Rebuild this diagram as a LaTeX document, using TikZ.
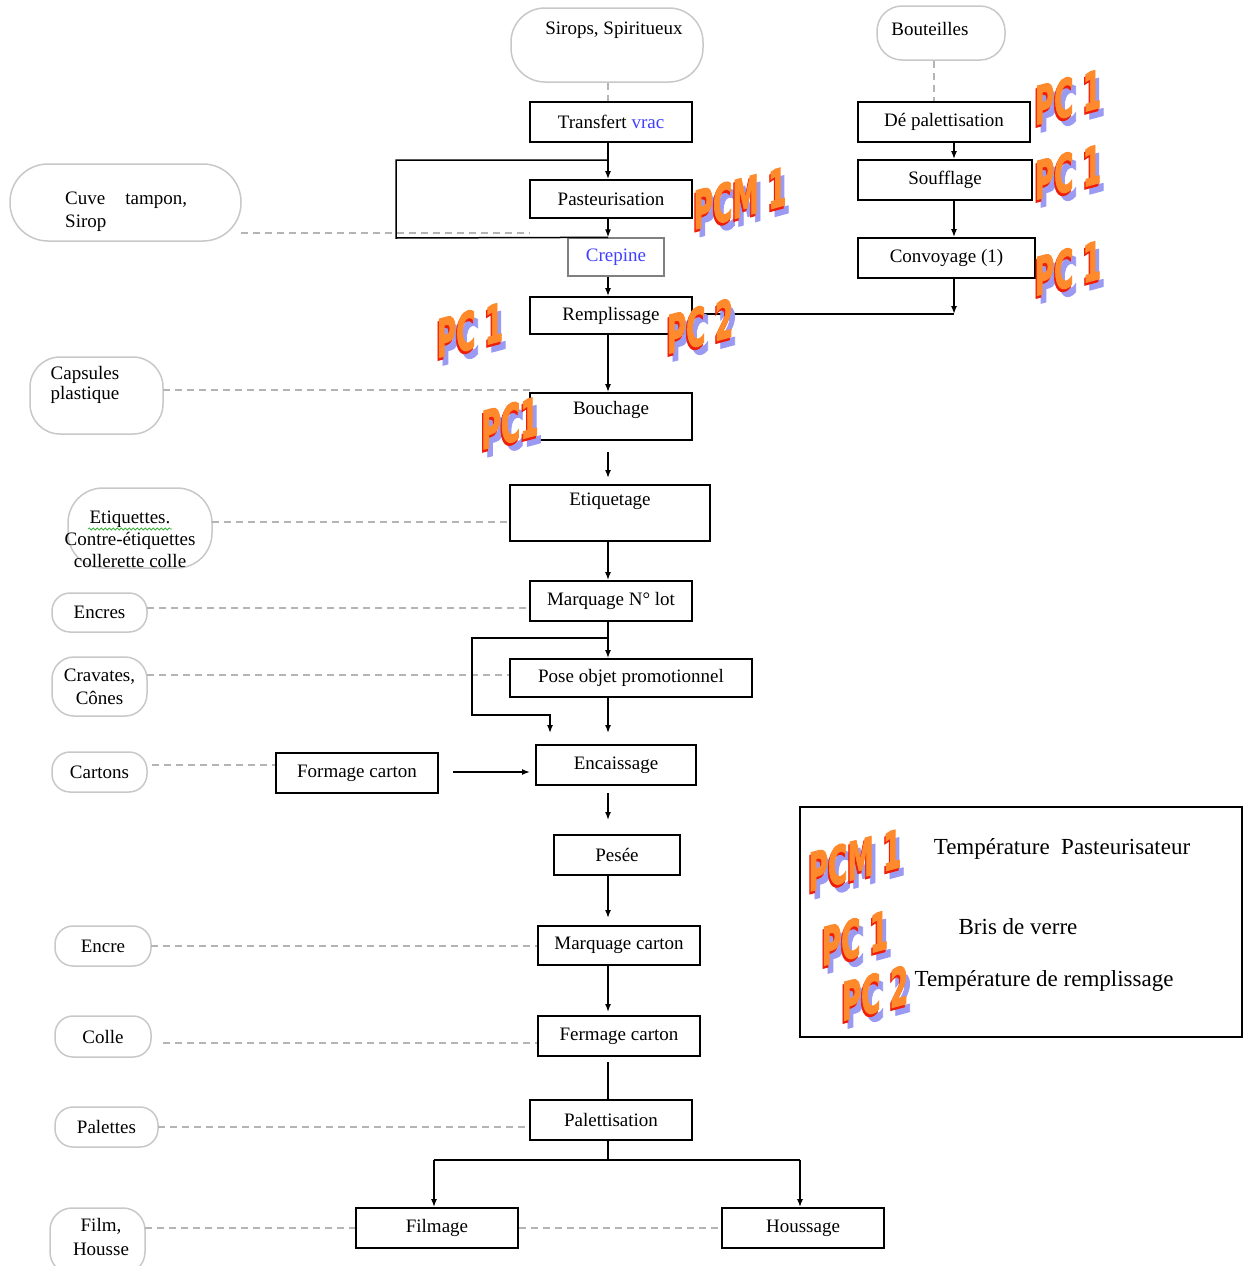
\documentclass[tikz,border=0pt]{standalone}
\usepackage{fontspec}
\setmainfont{Liberation Serif}
\newfontfamily\wafont[FakeBold=2.5]{DejaVu Sans}
\usetikzlibrary{arrows.meta,decorations.pathmorphing}
\definecolor{srcgray}{HTML}{C8C8C8}
\definecolor{dashgray}{HTML}{B4B4B4}
\definecolor{vracblue}{HTML}{4040FF}
\definecolor{wared}{HTML}{EE1E0A}
\definecolor{waorange}{HTML}{FF8A2C}
\definecolor{washadow}{HTML}{9A9AF2}
\definecolor{spellgreen}{HTML}{3CB43C}
\newcommand{\wordart}[4]{%
  \node[wa, text=washadow, xshift=6pt, yshift=-7pt] (#1-s) at (#2,#3) {#4};
  \node[wa, text=wared, xshift=-2pt, yshift=-2pt] (#1-r) at (#2,#3) {#4};
  \node[wa, text=waorange] (#1) at (#2,#3) {#4};}
\begin{document}
\begin{tikzpicture}[x=1pt,y=-1pt, font=\fontsize{19}{23}\selectfont,
  box/.style={draw, line width=1.8pt, inner sep=0pt, minimum height=40pt},
  src/.style={draw=srcgray, line width=1.5pt, inner sep=0pt, align=center},
  lbl/.style={inner sep=0pt, align=center},
  legtxt/.style={inner sep=0pt, align=center, font=\fontsize{23}{27}\selectfont},
  dsh/.style={draw=dashgray, line width=1.3pt, dash pattern=on 7pt off 5pt},
  conn/.style={line width=1.5pt},
  arr/.style={conn, -{Latex[length=8pt,width=6pt]}},
  wa/.style={font=\wafont\bfseries\fontsize{42}{42}\selectfont, inner sep=0pt, yslant=0.27, xscale=0.63, yscale=1.25},
]
\useasboundingbox (0,0) rectangle (1251,1266);

% ---------- process boxes ----------
\node[box, minimum width=162pt] (transfert) at (611,122) {Transfert \textcolor{vracblue}{vrac}};
\node[box, minimum width=162pt, minimum height=38pt] (pasteur) at (611,199) {Pasteurisation};
\node[box, draw=gray, line width=1.3pt, minimum width=96pt, minimum height=38pt, text=vracblue] (crepine) at (616,257) {Crepine};
\node[box, minimum width=162pt, minimum height=37pt] (remp) at (611,315.5) {Remplissage};
\node[box, minimum width=162pt, minimum height=47pt, text height=13pt, text depth=18pt] (bouchage) at (611,416.5) {Bouchage};
\node[box, minimum width=200pt, minimum height=56pt, text height=13pt, text depth=28pt] (etiq) at (610,513) {Etiquetage};
\node[box, minimum width=162pt] (lot) at (611,601) {Marquage N° lot};
\node[box, minimum width=242pt, minimum height=38pt] (pose) at (631,678) {Pose objet promotionnel};
\node[box, minimum width=160pt] (encaiss) at (616,765) {Encaissage};
\node[box, minimum width=162pt] (formage) at (357,773) {Formage carton};
\node[box, minimum width=126pt] (pesee) at (617,855) {Pesée};
\node[box, minimum width=162pt, minimum height=39pt] (marqc) at (619,945.5) {Marquage carton};
\node[box, minimum width=162pt] (fermage) at (619,1036) {Fermage carton};
\node[box, minimum width=162pt] (palett) at (611,1120) {Palettisation};
\node[box, minimum width=162pt] (filmage) at (437,1228) {Filmage};
\node[box, minimum width=162pt] (houssage) at (803,1228) {Houssage};
\node[box, minimum width=172pt] (depal) at (944,122) {Dé palettisation};
\node[box, minimum width=174pt] (souff) at (945,180) {Soufflage};
\node[box, minimum width=177pt] (convoy) at (946.5,258) {Convoyage (1)};

% ---------- source shapes ----------
\node[src, minimum width=192pt, minimum height=74pt, rounded corners=34pt] (sirops) at (607,45) {};
\node[lbl] (sirops-t) at (614,30) {Sirops, Spiritueux};
\node[src, minimum width=128pt, minimum height=54pt, rounded corners=25pt] (bout) at (941,33) {};
\node[lbl] (bout-t) at (930,29) {Bouteilles};
\node[src, minimum width=231pt, minimum height=77pt, rounded corners=38pt] (cuve) at (125.5,202.5) {};
\node[lbl, align=left, anchor=west] (cuve-t) at (65,211.5) {Cuve\hspace{20pt}tampon,\\Sirop};
\node[src, minimum width=133pt, minimum height=77pt, rounded corners=30pt] (caps) at (96.5,395.5) {};
\node[lbl, font=\fontsize{19}{20}\selectfont] (caps-t) at (85,385) {Capsules\\plastique};
\node[src, minimum width=144pt, minimum height=80pt, rounded corners=35pt] (etiqs) at (140,528) {};
\node[lbl, font=\fontsize{19}{22}\selectfont] (etiqs-t) at (130,539) {Etiquettes.\\Contre-étiquettes\\collerette colle};
\node[src, minimum width=95pt, minimum height=39pt, rounded corners=18pt] (encres) at (99.5,612.5) {Encres};
\node[src, minimum width=95pt, minimum height=59pt, rounded corners=22pt] (cravates) at (99.5,686.5) {Cravates,\\Cônes};
\node[src, minimum width=95pt, minimum height=40pt, rounded corners=18pt] (cartons) at (99.5,772) {Cartons};
\node[src, minimum width=96pt, minimum height=40pt, rounded corners=18pt] (encre) at (103,946) {Encre};
\node[src, minimum width=96pt, minimum height=41pt, rounded corners=18pt] (colle) at (103,1036.5) {Colle};
\node[src, minimum width=103pt, minimum height=40pt, rounded corners=18pt] (palettes) at (106.5,1127) {Palettes};
\node[src, minimum width=95pt, minimum height=66pt, rounded corners=22pt] (film) at (97.5,1241) {};
\node[lbl, font=\fontsize{19}{24}\selectfont] (film-t) at (101,1237) {Film,\\Housse};

% spell-check underline
\coordinate (sp1) at (88,529);
\coordinate (sp2) at (172,529);
\draw[spellgreen, line width=0.8pt, decorate, decoration={snake, amplitude=1pt, segment length=4pt}] (sp1) -- (sp2);

% ---------- dashed links ----------
\coordinate (col) at (608,0);
\coordinate (rcol) at (954,0);
\coordinate (bcol) at (934,0);
\draw[dsh] (sirops.south -| col) -- (transfert.north -| col);
\draw[dsh] (bout.south -| bcol) -- (depal.north -| bcol);
\coordinate (d3a) at (241,233); \coordinate (d3b) at (530,233);
\draw[dsh] (d3a) -- (d3b);
\coordinate (d4a) at (163,390); \coordinate (d4b) at (530,390);
\draw[dsh] (d4a) -- (d4b);
\coordinate (d5a) at (212,522);
\draw[dsh] (d5a) -- (d5a -| etiq.west);
\coordinate (d6a) at (147,608);
\draw[dsh] (d6a) -- (d6a -| lot.west);
\coordinate (d7a) at (147,675);
\draw[dsh] (d7a) -- (d7a -| pose.west);
\coordinate (d8a) at (152,765);
\draw[dsh] (d8a) -- (d8a -| formage.west);
\coordinate (d9a) at (151,946);
\draw[dsh] (d9a) -- (d9a -| marqc.west);
\coordinate (d10a) at (163,1043);
\draw[dsh] (d10a) -- (d10a -| fermage.west);
\coordinate (d11a) at (158,1127);
\draw[dsh] (d11a) -- (d11a -| palett.west);
\coordinate (d12a) at (145,1228);
\draw[dsh] (d12a) -- (filmage.west);
\draw[dsh] (filmage.east) -- (houssage.west);

% ---------- flow connectors ----------
\draw[arr] (transfert.south -| col) -- (pasteur.north -| col);
\coordinate (l1a) at (608,160);
\coordinate (l1b) at (396,160);
\coordinate (l1c) at (396,238);
\draw[conn] (l1a) -- (l1b) -- (l1c) -- (crepine.north -| col);
\draw[arr] (pasteur.south -| col) -- (crepine.north -| col);
\draw[arr] (crepine.south -| col) -- (remp.north -| col);
\draw[arr] (remp.south -| col) -- (bouchage.north -| col);
\draw[arr] (depal.south -| rcol) -- (souff.north -| rcol);
\draw[arr] (souff.south -| rcol) -- (convoy.north -| rcol);
\coordinate (cj) at (954,314);
\draw[arr] (convoy.south -| rcol) -- (cj);
\draw[conn] (remp.east |- cj) -- (cj);
\coordinate (b1) at (608,452);
\coordinate (b2) at (608,478);
\draw[arr] (b1) -- (b2);
\draw[arr] (etiq.south -| col) -- (lot.north -| col);
\draw[arr] (lot.south -| col) -- (pose.north -| col);
\coordinate (l2a) at (608,638);
\coordinate (l2b) at (472,638);
\coordinate (l2c) at (472,715);
\coordinate (l2d) at (550,715);
\coordinate (l2e) at (550,733);
\draw[arr] (l2a) -- (l2b) -- (l2c) -- (l2d) -- (l2e);
\coordinate (p1) at (608,733);
\draw[arr] (pose.south -| col) -- (p1);
\coordinate (f1) at (453,772);
\coordinate (f2) at (530,772);
\draw[arr] (f1) -- (f2);
\coordinate (e1) at (608,793);
\coordinate (e2) at (608,820);
\draw[arr] (e1) -- (e2);
\coordinate (ps1) at (608,918);
\draw[arr] (pesee.south -| col) -- (ps1);
\coordinate (mc1) at (608,1012);
\draw[arr] (marqc.south -| col) -- (mc1);
\coordinate (fm1) at (608,1062);
\draw[conn] (fm1) -- (palett.north -| col);
\coordinate (pj) at (608,1160);
\coordinate (pjl) at (434,1160);
\coordinate (pjr) at (800,1160);
\draw[conn] (palett.south -| col) -- (pj);
\draw[conn] (pjl) -- (pjr);
\draw[arr] (pjl) -- (filmage.north -| pjl);
\draw[arr] (pjr) -- (houssage.north -| pjr);

% ---------- legend ----------
\node[draw, line width=1.5pt, minimum width=442pt, minimum height=230pt, inner sep=0pt] (legend) at (1021,922) {};
\node[legtxt] (leg1) at (1062,849) {Température\ \ Pasteurisateur};
\node[legtxt] (leg2) at (1018,927) {Bris de verre};
\node[legtxt] (leg3) at (1044,981) {Température de remplissage};

% ---------- word-art labels ----------
\wordart{wa1}{1068}{97}{PC 1}
\wordart{wa2}{1068}{172}{PC 1}
\wordart{wa3}{1068}{268}{PC 1}
\wordart{wa4}{740}{198}{PCM 1}
\wordart{wa5}{470}{330}{PC 1}
\wordart{wa6}{700}{326}{PC 2}
\wordart{wa7}{510}{423}{PC1}
\wordart{wa8}{855}{860}{PCM 1}
\wordart{wa9}{855}{938}{PC 1}
\wordart{wa10}{875}{993}{PC 2}
\end{tikzpicture}
\end{document}
